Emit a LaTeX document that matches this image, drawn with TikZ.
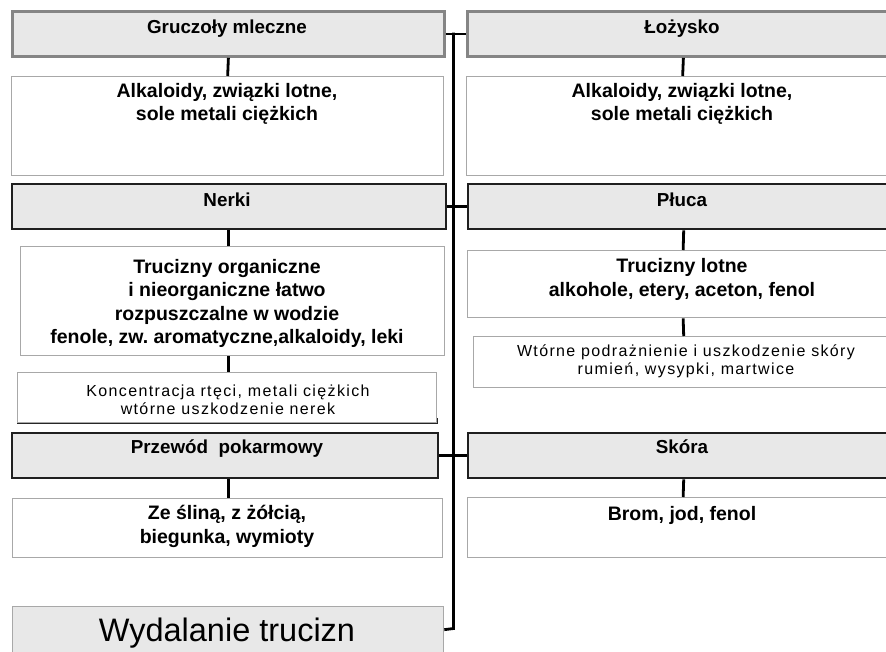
\documentclass[tikz,border=0pt]{standalone}
\usepackage{fontspec}
\setmainfont{Liberation Sans}
\newfontfamily\spacedfont[LetterSpace=8.5]{Liberation Sans}
\usepackage{tikz}
\definecolor{headfill}{HTML}{E8E8E8}
\definecolor{headgray}{HTML}{858585}
\definecolor{thingray}{HTML}{A8A8A8}
\frenchspacing

\begin{document}
\begin{tikzpicture}[x=1pt,y=-1pt,
  organ/.style={draw=black!88, line width=2.4pt, fill=headfill, inner sep=0pt, anchor=north west},
  organtop/.style={organ, draw=headgray, line width=2.8pt},
  content/.style={draw=thingray, line width=1.3pt, fill=white, inner sep=0pt, anchor=north west},
  finalbox/.style={content, fill=headfill},
  link/.style={black, line width=2.8pt},
  titletext/.style={font=\bfseries\fontsize{18.8}{23}\selectfont, inner sep=0pt, anchor=base},
  bigtext/.style={font=\bfseries\fontsize{19.5}{23.5}\selectfont, align=center, inner sep=0pt},
  smalltext/.style={font=\spacedfont\fontsize{16}{18.2}\selectfont, align=center, inner sep=0pt}]
\useasboundingbox (0,0) rectangle (886,651);
\clip (0,0) rectangle (886,651);

% left column
\node[organtop, minimum width=432pt, minimum height=45pt] (gm) at (11,10) {};
\node[content, minimum width=432pt, minimum height=99pt] (gmc) at (11,76) {};
\node[organ, minimum width=434pt, minimum height=45pt] (nk) at (11,183) {};
\node[content, minimum width=424pt, minimum height=109pt] (nkc) at (20,246) {};
\node[content, minimum width=419pt, minimum height=50pt] (kon) at (17,372) {};
\node[organ, minimum width=426pt, minimum height=45pt] (pp) at (11,432) {};
\node[content, minimum width=430pt, minimum height=59pt] (ppc) at (12,498) {};
\node[finalbox, minimum width=431pt, minimum height=46pt] (wy) at (12,606) {};

% right column
\node[organtop, minimum width=432pt, minimum height=45pt] (lz) at (466,10) {};
\node[content, minimum width=432pt, minimum height=99pt] (lzc) at (466,76) {};
\node[organ, minimum width=431pt, minimum height=45pt] (pl) at (467,183) {};
\node[content, minimum width=431pt, minimum height=67pt] (plc) at (467,250) {};
\node[content, minimum width=425pt, minimum height=51pt] (wt) at (473,336) {};
\node[organ, minimum width=431pt, minimum height=45pt] (sk) at (467,432) {};
\node[content, minimum width=431pt, minimum height=60pt] (skc) at (467,497) {};

\draw[black!85, line width=1.6pt] (kon.south west) -- (kon.south east) -- ([yshift=5pt]kon.south east);

% texts
\node[titletext] (gm-t) at (227,33.5) {Gruczoły mleczne};
\node[titletext] (lz-t) at (682,33.5) {Łożysko};
\node[titletext] (nk-t) at (227,206.5) {Nerki};
\node[titletext] (pl-t) at (682,206) {Płuca};
\node[titletext] (pp-t) at (227,453.5) {Przewód\ \ pokarmowy};
\node[titletext] (sk-t) at (682,453) {Skóra};

\node[bigtext] (gmc-t) at (227,103.8) {Alkaloidy, związki lotne,\\sole metali ciężkich};
\node[bigtext] (lzc-t) at (682,103.8) {Alkaloidy, związki lotne,\\sole metali ciężkich};
\node[bigtext] (nkc-t) at (227,303.5) {Trucizny organiczne\\i nieorganiczne łatwo\\rozpuszczalne w wodzie\\fenole, zw. aromatyczne,alkaloidy, leki};
\node[bigtext] (plc-t) at (682,279.5) {Trucizny lotne\\alkohole, etery, aceton, fenol};
\node[bigtext] (ppc-t) at (227,526.5) {Ze śliną, z żółcią,\\biegunka, wymioty};
\node[bigtext, anchor=base] (skc-t) at (682,520) {Brom, jod, fenol};
\node[smalltext] (kon-t) at (228,400) {Koncentracja rtęci, metali ciężkich\\wtórne uszkodzenie nerek};
\node[smalltext] (wt-t) at (686,361.5) {Wtórne podrażnienie i uszkodzenie skóry\\rumień, wysypki, martwice};
\node[font=\fontsize{32.5}{36}\selectfont, inner sep=0pt, anchor=base] (wy-t) at (227,641.5) {Wydalanie trucizn};

% connectors
\coordinate (sptop) at (453.5,32.5);
\coordinate (spbot) at (453.5,628.5);
\draw[link] (gm.east) -- (lz.west);
\draw[link] (nk.east) -- (pl.west);
\draw[link] (pp.east) -- (sk.west);
\draw[link] (sptop) -- (spbot) -- (wy.east);

\draw[link] (gm.south) -- (gmc.north);
\draw[link] (lz.south) -- (lzc.north);
\draw[link] (gm.south |- nk.south) -- (gm.south |- nkc.north);
\draw[link] (gm.south |- nkc.south) -- (gm.south |- kon.north);
\draw[link] (gm.south |- pp.south) -- (gm.south |- ppc.north);
\draw[link] (pl.south) -- (plc.north);
\draw[link] (plc.south) -- (pl.south |- wt.north);
\draw[link] (sk.south) -- (skc.north);

\end{tikzpicture}
\end{document}
